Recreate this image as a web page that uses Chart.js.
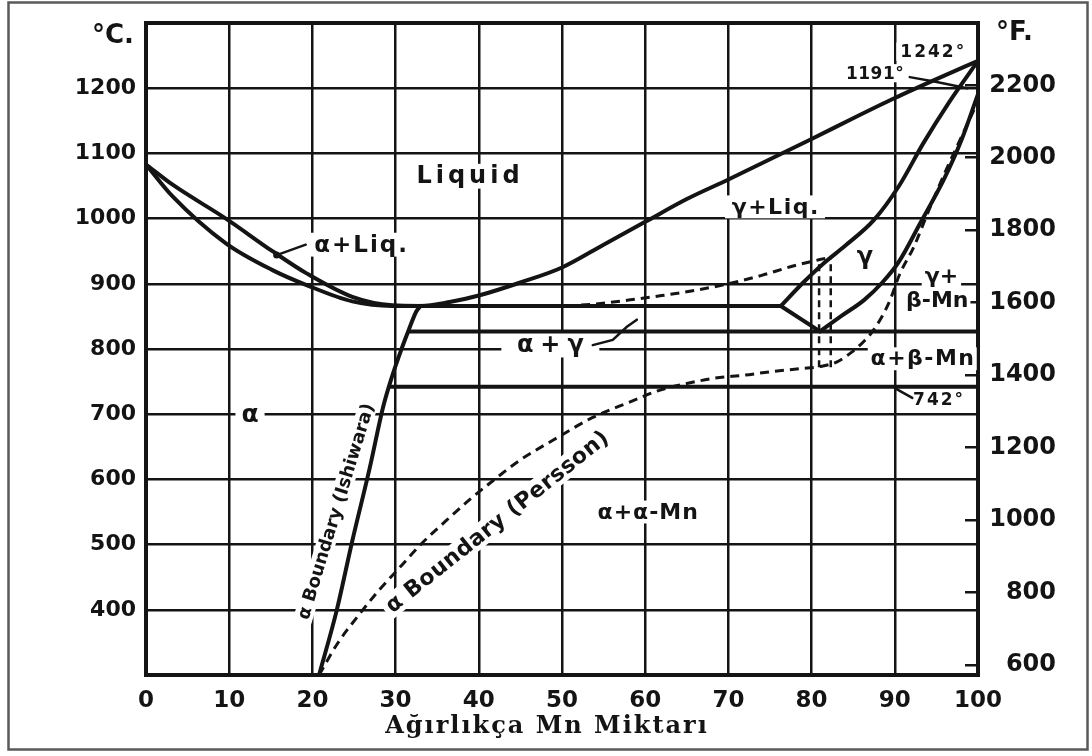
<!DOCTYPE html>
<html>
<head>
<meta charset="utf-8">
<script src="https://cdn.jsdelivr.net/npm/chart.js@4.4.1/dist/chart.umd.min.js"></script>
<style>
  html, body { margin: 0; padding: 0; background: #fff; }
  #wrap { width: 1092px; height: 756px; position: relative; }
</style>
</head>
<body>
<div id="wrap"><canvas id="diagram" width="1092" height="756"></canvas></div>
<script>
// Cu–Mn equilibrium diagram: composition in wt.% Mn, temperature in °C (°F on the right)

// Axis ticks
const mnTicks = [0, 10, 20, 30, 40, 50, 60, 70, 80, 90, 100];
const celsiusTicks = [400, 500, 600, 700, 800, 900, 1000, 1100, 1200];
const fahrenheitTicks = [600, 800, 1000, 1200, 1400, 1600, 1800, 2000, 2200];

// Liquidus (upper edge of the α+Liq. lens, then the γ+Liq. liquidus up to Mn)
const liquidusMn = [0, 3.2, 9.6, 15.2, 19.3, 24.8, 29.6, 33, 36.5, 40, 45, 50, 55, 60, 65, 70, 75, 80, 85, 90, 95, 100];
const liquidusC  = [1083, 1052, 1000, 950, 916, 880, 867, 866, 872, 882, 902, 925, 960, 995, 1030, 1060, 1091, 1122, 1154, 1185, 1214, 1242];

// α solidus (lower edge of the α+Liq. lens)
const solidusMn = [0, 3.2, 9.6, 15.2, 19.3, 24.8, 29.6, 33];
const solidusC  = [1083, 1034, 962, 921, 898, 873, 866, 866];

// Horizontal reaction lines
const line866Mn = [33, 76.3];
const line866C  = [866, 866];
const line827Mn = [31.6, 100];
const line827C  = [827, 827];
const line742Mn = [29.4, 100];
const line742C  = [742, 742];

// γ solidus and the lower branch of the γ field
const gammaSolidusMn = [76.3, 79, 81.5, 84, 87.5, 90.5, 93.4, 96.5, 100];
const gammaSolidusC  = [866, 902, 932, 958, 998, 1050, 1115, 1178, 1242];
const gammaLowerMn = [76.3, 81];
const gammaLowerC  = [866, 827];

// γ / (γ+β-Mn) boundary
const gammaBetaMn = [81, 83.5, 86.3, 88.5, 90.4, 93.1, 95.9, 98, 100];
const gammaBetaC  = [827, 850, 875, 902, 932, 994, 1060, 1120, 1191];

// α boundary after Ishiwara (solid)
const ishiwaraMn = [20.8, 22.9, 24.8, 26.9, 28.5, 29.5, 30.8, 31.6, 32.5, 33];
const ishiwaraC  = [300, 398, 506, 618, 711, 755, 803, 830, 858, 866];

// α boundary after Persson (dashed), continuing into the β-Mn boundary
const perssonMn = [20.8, 23, 25.7, 28, 30.5, 33, 36.1, 39, 41.7, 45, 48.9, 53.7, 58, 61.8, 65, 68.2, 72, 75, 78.7, 81, 83, 84.7, 86.3, 87.5, 89.3, 90.6, 92.3, 94, 96, 98, 100];
const perssonC  = [300, 348, 394, 430, 465, 500, 537, 570, 598, 630, 660, 695, 718, 737, 747, 755, 760, 765, 770, 773, 780, 794, 812, 830, 871, 915, 957, 1010, 1070, 1125, 1180];

// Dashed γ boundary inside the α+γ field
const gammaDashMn = [50.5, 54, 58, 62, 66, 70, 74, 78, 82.3];
const gammaDashC  = [866, 869, 875, 882, 890, 900, 913, 928, 941];

// Dashed verticals near 81–82 % Mn
const vertLeftMn  = [80.9, 80.9];
const vertLeftC   = [772, 937];
const vertRightMn = [82.3, 82.3];
const vertRightC  = [772, 941];

const INK = '#141414';

function seriesSet(mn, c, style) {
  return Object.assign({
    data: mn.map((x, i) => ({ x: x, y: c[i] })),
    showLine: true,
    pointRadius: 0,
    borderColor: INK,
    borderWidth: 4,
    borderCapStyle: 'round',
    borderJoinStyle: 'round',
    fill: false,
    tension: 0
  }, style || {});
}

const smooth = { cubicInterpolationMode: 'monotone' };
const dashed = { borderWidth: 3, borderDash: [9, 6], borderCapStyle: 'butt', cubicInterpolationMode: 'monotone' };

const datasets = [
  seriesSet(liquidusMn, liquidusC, smooth),
  seriesSet(solidusMn, solidusC, smooth),
  seriesSet(line866Mn, line866C),
  seriesSet(line827Mn, line827C),
  seriesSet(line742Mn, line742C),
  seriesSet(gammaSolidusMn, gammaSolidusC, smooth),
  seriesSet(gammaLowerMn, gammaLowerC),
  seriesSet(gammaBetaMn, gammaBetaC, smooth),
  seriesSet(ishiwaraMn, ishiwaraC, smooth),
  seriesSet(perssonMn, perssonC, dashed),
  seriesSet(gammaDashMn, gammaDashC, dashed),
  seriesSet(vertLeftMn, vertLeftC, { borderWidth: 2.5, borderDash: [7, 5], borderCapStyle: 'butt' }),
  seriesSet(vertRightMn, vertRightC, { borderWidth: 2.5, borderDash: [7, 5], borderCapStyle: 'butt' })
];

// Field names and temperature notes, anchored in (Mn %, °C)
const fieldLabels = [
  { text: 'Liquid', mn: 38.7, c: 1065, size: 24, spacing: 4, knock: 6 },
  { text: 'α+Liq.', mn: 25.8, c: 960, size: 23, spacing: 2, knock: 6 },
  { text: 'γ+Liq.', mn: 75.6, c: 1018, size: 22, spacing: 1.5, knock: 6 },
  { text: 'γ', mn: 86.4, c: 941, size: 24 },
  { text: 'γ+', mn: 95.6, c: 912, size: 22, knock: 3 },
  { text: 'β-Mn', mn: 95.1, c: 875, size: 22, knock: 2 },
  { text: 'α+β-Mn', mn: 93.3, c: 785, size: 22, spacing: 1.5, knock: 2 },
  { text: 'α+γ', mn: 48.6, c: 806, size: 24, spacing: 7, knock: 12 },
  { text: 'α', mn: 12.5, c: 700, size: 25, knock: 6 },
  { text: 'α+α-Mn', mn: 60.3, c: 550, size: 22, spacing: 1, knock: 6 },
  { text: '1242°', mn: 94.5, c: 1256, size: 17, spacing: 2, knock: 3 },
  { text: '1191°', mn: 87.6, c: 1223, size: 17, spacing: 0.5, knock: 3 },
  { text: '742°', mn: 95.2, c: 722, size: 17, spacing: 2, knock: 3 },
  { text: 'α Boundary (Ishiwara)', mn: 22.8, c: 551, size: 18, angle: -73, knock: 4 },
  { text: 'α Boundary (Persson)', mn: 42.2, c: 535, size: 22, spacing: 0.5, angle: -38.5, knock: 4 }
];

// Short leader strokes from labels to their lines, in (Mn %, °C)
const leaders = [
  { pts: [[15.7, 944], [19.2, 960]], dot: true },
  { pts: [[53.7, 806], [56.1, 814], [57.8, 834], [59.0, 845]] },
  { pts: [[91.8, 1217], [94.9, 1210], [98.7, 1200]] },
  { pts: [[90.0, 740], [92.1, 725]] }
];

function labelFont(a) {
  return 'bold ' + a.size + 'px "DejaVu Sans", sans-serif';
}

function withLabel(ctx, a, xs, ys, fn) {
  ctx.save();
  ctx.font = labelFont(a);
  ctx.letterSpacing = (a.spacing || 0) + 'px';
  ctx.translate(xs.getPixelForValue(a.mn), ys.getPixelForValue(a.c));
  if (a.angle) ctx.rotate(a.angle * Math.PI / 180);
  fn();
  ctx.restore();
}

const diagramDecor = {
  id: 'diagramDecor',
  beforeDraw(chart) {
    const ctx = chart.ctx;
    ctx.save();
    ctx.fillStyle = '#fff';
    ctx.fillRect(0, 0, chart.width, chart.height);
    ctx.strokeStyle = '#5a5a5a';
    ctx.lineWidth = 2.5;
    ctx.strokeRect(8.5, 2.5, 1079, 747);
    ctx.restore();
  },
  beforeDatasetsDraw(chart) {
    const ctx = chart.ctx, xs = chart.scales.x, ys = chart.scales.y;
    fieldLabels.forEach(a => {
      if (!a.knock) return;
      withLabel(ctx, a, xs, ys, () => {
        const w = ctx.measureText(a.text).width;
        const h = a.size * 0.95;
        ctx.fillStyle = '#fff';
        ctx.fillRect(-w / 2 - a.knock, -h / 2 - 1, w + 2 * a.knock, h + 2);
      });
    });
  },
  afterDatasetsDraw(chart) {
    const ctx = chart.ctx, xs = chart.scales.x, ys = chart.scales.y;
    const area = chart.chartArea;

    fieldLabels.forEach(a => {
      withLabel(ctx, a, xs, ys, () => {
        ctx.fillStyle = INK;
        ctx.textAlign = 'center';
        ctx.textBaseline = 'middle';
        ctx.fillText(a.text, (a.spacing || 0) / 2, 1);
      });
    });

    ctx.save();
    ctx.strokeStyle = INK;
    ctx.fillStyle = INK;
    ctx.lineWidth = 2.5;
    ctx.lineCap = 'round';
    leaders.forEach(l => {
      ctx.beginPath();
      l.pts.forEach((p, i) => {
        const x = xs.getPixelForValue(p[0]), y = ys.getPixelForValue(p[1]);
        if (i === 0) ctx.moveTo(x, y); else ctx.lineTo(x, y);
      });
      ctx.stroke();
      if (l.dot) {
        ctx.beginPath();
        ctx.arc(xs.getPixelForValue(l.pts[0][0]), ys.getPixelForValue(l.pts[0][1]), 3.5, 0, Math.PI * 2);
        ctx.fill();
      }
    });

    // unit captions at the top of both temperature axes
    ctx.font = 'bold 26px "DejaVu Sans", sans-serif';
    ctx.textBaseline = 'middle';
    ctx.textAlign = 'right';
    ctx.fillText('°C.', area.left - 12, area.top + 13);
    ctx.textAlign = 'left';
    ctx.fillText('°F.', area.right + 18, area.top + 10);

    // composition axis title
    ctx.font = 'bold 24px "DejaVu Serif", serif';
    ctx.letterSpacing = '2px';
    ctx.textAlign = 'center';
    ctx.fillText('Ağırlıkça Mn Miktarı', 547, 727);
    ctx.restore();
  }
};

const gridWidth = edge => (ctx) => {
  const v = ctx.tick ? ctx.tick.value : null;
  return (v === edge[0] || v === edge[1]) ? 4 : 2.5;
};

// keep the plot frame exactly where the axis boxes put it
const noLabelPadding = s => {
  s.paddingTop = 0; s.paddingBottom = 0; s.paddingLeft = 0; s.paddingRight = 0;
};

const tickFont = { family: '"DejaVu Sans", sans-serif', weight: 'bold', size: 22 };

new Chart(document.getElementById('diagram'), {
  type: 'scatter',
  data: { datasets: datasets },
  plugins: [diagramDecor],
  options: {
    responsive: false,
    animation: false,
    devicePixelRatio: 1,
    layout: { padding: { top: 23, left: 0, right: 36, bottom: 0 } },
    plugins: { legend: { display: false }, tooltip: { enabled: false } },
    scales: {
      x: {
        type: 'linear', position: 'bottom', min: 0, max: 100,
        afterFit: s => { s.height = 81; noLabelPadding(s); },
        afterBuildTicks: s => { s.ticks = mnTicks.map(v => ({ value: v })); },
        ticks: { autoSkip: false, maxRotation: 0, padding: 12, color: INK, font: Object.assign({}, tickFont, { size: 23 }), callback: v => String(v) },
        grid: { color: INK, lineWidth: gridWidth([0, 100]), drawTicks: false },
        border: { display: true, color: INK, width: 4 }
      },
      y: {
        type: 'linear', position: 'left', min: 300, max: 1300,
        afterFit: s => { s.width = 146; noLabelPadding(s); },
        afterBuildTicks: s => { s.ticks = [300].concat(celsiusTicks, [1300]).map(v => ({ value: v })); },
        ticks: { autoSkip: false, padding: 10, color: INK, font: tickFont, callback: v => celsiusTicks.includes(v) ? String(v) : '' },
        grid: { color: INK, lineWidth: gridWidth([300, 1300]), drawTicks: false },
        border: { display: true, color: INK, width: 4 }
      },
      yF: {
        type: 'linear', position: 'right', min: 300 * 1.8 + 32, max: 1300 * 1.8 + 32,
        afterFit: s => { s.width = 78; noLabelPadding(s); },
        afterBuildTicks: s => { s.ticks = fahrenheitTicks.map(v => ({ value: v })); },
        ticks: { autoSkip: false, crossAlign: 'far', padding: 8, color: INK, font: Object.assign({}, tickFont, { size: 24 }), callback: v => String(v) },
        grid: { drawOnChartArea: false, color: INK, lineWidth: 2.5, tickLength: -13 },
        border: { display: true, color: INK, width: 4 }
      }
    }
  }
});
</script>
</body>
</html>
